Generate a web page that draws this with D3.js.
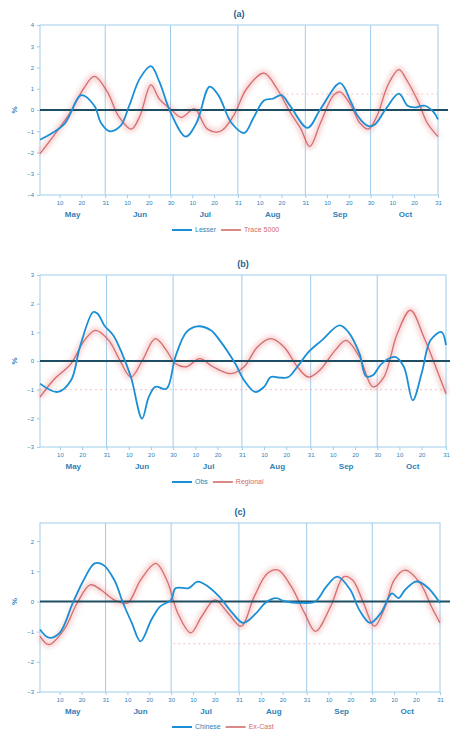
<!DOCTYPE html>
<html>
<head>
<meta charset="utf-8">
<script src="https://cdn.jsdelivr.net/npm/d3@7"></script>
<style>
  body { margin: 0; background: #fff; }
  svg { display: block; font-family: "Liberation Sans", Arial, sans-serif; }
</style>
</head>
<body>
<div id="chart"></div>
<script>
// ---- data (date "MM-DD", value) ----
const months = ['May', 'Jun', 'Jul', 'Aug', 'Sep', 'Oct'];
const tickDays = [10, 20];   // plus last day of each month

const aBlue = [['05-01',-1.4],['05-12',-0.68],['05-20',0.7],['05-26',0.2],['05-29',-0.6],['06-02',-1.0],['06-07',-0.75],
  ['06-11',0.2],['06-16',1.5],['06-21',2.06],['06-25',1.3],['06-30',-0.1],['07-07',-1.25],['07-12',-0.6],['07-18',1.1],
  ['07-22',0.7],['07-28',-0.6],['08-03',-1.08],['08-07',-0.4],['08-12',0.45],['08-16',0.53],['08-20',0.7],['08-24',0.2],
  ['09-01',-0.84],['09-07',0.05],['09-16',1.26],['09-21',0.37],['09-24',-0.27],['09-29',-0.76],['10-02',-0.68],
  ['10-07',0.05],['10-13',0.77],['10-17',0.2],['10-20',0.12],['10-25',0.2],['10-29',-0.1],['10-31',-0.44]];
const aRed = [['05-01',-2.05],['05-07',-1.25],['05-15',-0.1],['05-21',1.0],['05-26',1.58],['06-01',0.85],['06-06',-0.27],
  ['06-12',-0.9],['06-16',-0.27],['06-21',1.18],['06-25',0.5],['06-30',0.05],['07-05',-0.35],['07-11',0.05],['07-17',-0.9],
  ['07-23',-1.0],['07-29',-0.27],['08-04',1.0],['08-12',1.74],['08-18',1.0],['08-24',-0.1],['08-29',-0.9],['09-02',-1.72],
  ['09-07',-0.6],['09-13',0.7],['09-16',0.85],['09-21',0.2],['09-25',-0.6],['09-29',-0.9],['10-03',-0.27],['10-08',1.18],
  ['10-13',1.9],['10-17',1.34],['10-22',0.37],['10-26',-0.6],['10-31',-1.25]];

const bBlue = [['05-01',-0.79],['05-09',-1.08],['05-15',-0.67],['05-19',0.49],['05-25',1.71],['05-27',1.65],['05-30',1.24],
  ['06-03',0.9],['06-07',0.26],['06-11',-0.56],['06-16',-2.01],['06-19',-1.26],['06-22',-0.9],['06-27',-0.97],['07-01',0.14],
  ['07-06',1.01],['07-11',1.21],['07-17',1.07],['07-21',0.72],['07-28',-0.09],['08-01',-0.67],['08-06',-1.08],['08-10',-0.9],
  ['08-13',-0.56],['08-17',-0.58],['08-21',-0.56],['08-25',-0.2],['08-30',0.31],['09-05',0.72],['09-13',1.24],['09-17',1.01],
  ['09-22',0.26],['09-25',-0.53],['09-28',-0.5],['10-02',-0.09],['10-08',0.14],['10-12',-0.2],['10-16',-1.37],['10-20',-0.44],
  ['10-24',0.72],['10-29',1.01],['10-31',0.55]];
const bRed = [['05-01',-1.26],['05-07',-0.67],['05-15',-0.09],['05-21',0.72],['05-26',1.07],['06-01',0.72],['06-06',0.02],
  ['06-11',-0.56],['06-16',0.0],['06-22',0.78],['06-27',0.37],['07-01',-0.09],['07-06',-0.2],['07-12',0.08],['07-18',-0.2],
  ['07-26',-0.44],['08-01',-0.2],['08-07',0.49],['08-13',0.78],['08-19',0.49],['08-25',-0.2],['08-30',-0.56],['09-04',-0.33],
  ['09-11',0.37],['09-16',0.72],['09-22',0.14],['09-28',-0.9],['10-03',-0.56],['10-09',0.95],['10-15',1.77],['10-21',0.84],
  ['10-27',-0.33],['10-31',-1.14]];

const cBlue = [['05-01',-0.93],['05-05',-1.2],['05-10',-1.04],['05-16',-0.05],['05-21',0.71],['05-26',1.26],['05-30',1.21],
  ['06-04',0.71],['06-08',-0.05],['06-12',-0.71],['06-16',-1.32],['06-21',-0.6],['06-25',-0.16],['06-30',0.05],['07-02',0.44],
  ['07-08',0.44],['07-12',0.66],['07-17',0.49],['07-22',0.16],['07-28',-0.38],['08-02',-0.71],['08-08',-0.38],['08-12',-0.05],
  ['08-17',0.11],['08-21',0.0],['08-29',-0.05],['09-04',0.0],['09-09',0.49],['09-14',0.82],['09-20',0.38],['09-24',-0.27],
  ['09-29',-0.71],['10-04',-0.38],['10-09',0.27],['10-12',0.11],['10-15',0.38],['10-20',0.66],['10-25',0.49],['10-31',-0.05]];
const cRed = [['05-01',-1.15],['05-05',-1.43],['05-12',-0.93],['05-18',-0.05],['05-24',0.55],['05-29',0.38],['06-04',0.05],
  ['06-10',-0.05],['06-16',0.71],['06-23',1.26],['06-28',0.71],['07-03',-0.38],['07-09',-1.04],['07-14',-0.49],['07-20',0.05],
  ['07-26',-0.38],['08-01',-0.82],['08-07',0.16],['08-13',0.93],['08-18',1.04],['08-24',0.49],['08-30',-0.38],['09-04',-0.99],
  ['09-11',-0.16],['09-17',0.82],['09-21',0.71],['09-26',-0.05],['10-01',-0.82],['10-06',-0.16],['10-10',0.71],['10-15',1.04],
  ['10-22',0.6],['10-27',-0.16],['10-31',-0.71]];

const titles = ['(a)', '(b)', '(c)'];
const legendNames = [['Lesser', 'Trace 5000'], ['Obs', 'Regional'], ['Chinese', 'Ex-Cast']];
const yTicks = [[-4, -3, -2, -1, 0, 1, 2, 3, 4], [-3, -2, -1, 0, 1, 2, 3], [-3, -2, -1, 0, 1, 2]];
const yDomains = [[-4, 4], [-3, 3], [-3, 2.6]];
const refLevels = [0.75, -1, -1.4];   // faint dashed reference lines

// ---- layout ----
const W = 450, H = 730;
const frames = [
  { top: 25, bottom: 195, right: 438, refFrom: '08-20' },
  { top: 275, bottom: 447, right: 446, refFrom: '05-01' },
  { top: 523, bottom: 692, right: 440, refFrom: '07-01' }
];
const left = 40;
const blue = '#1a8fd6', red = '#c8474a', axisCol = '#9fcdec', textCol = '#2f7fb8';

const parse = s => d3.timeParse('%Y-%m-%d')('2021-' + s);
const start = parse('05-01'), end = parse('10-31');

const svg = d3.select('#chart').append('svg').attr('width', W).attr('height', H);

const defs = svg.append('defs');
defs.append('filter').attr('id', 'soft').attr('x', '-5%').attr('y', '-20%').attr('width', '110%').attr('height', '140%')
  .append('feGaussianBlur').attr('stdDeviation', 2.2);

const seriesSets = [[aBlue, aRed], [bBlue, bRed], [cBlue, cRed]];

frames.forEach((f, i) => {
  const g = svg.append('g');
  const x = d3.scaleTime().domain([start, end]).range([left, f.right]);
  const y = d3.scaleLinear().domain(yDomains[i]).range([f.bottom, f.top]);

  // frame
  g.append('rect').attr('x', left).attr('y', f.top).attr('width', f.right - left).attr('height', f.bottom - f.top)
    .attr('fill', 'none').attr('stroke', axisCol).attr('stroke-width', 1);

  // month boundary lines
  const monthEnds = d3.timeMonth.range(parse('06-01'), parse('10-01')).concat([parse('10-01')])
    .map(d => d3.timeDay.offset(d, -1));
  g.selectAll('.mline').data(monthEnds).join('line')
    .attr('x1', d => x(d)).attr('x2', d => x(d)).attr('y1', f.top).attr('y2', f.bottom)
    .attr('stroke', axisCol).attr('stroke-width', 1);

  // y axis
  const ya = g.append('g').attr('transform', `translate(${left},0)`)
    .call(d3.axisLeft(y).tickValues(yTicks[i]).tickSize(3).tickFormat(d3.format('d')));
  ya.select('.domain').remove();
  ya.selectAll('line').attr('stroke', axisCol);
  ya.selectAll('text').attr('fill', textCol).style('font-size', '6px').attr('x', -6);

  // y label
  g.append('text').attr('transform', `translate(14,${y(0)}) rotate(-90)`).attr('text-anchor', 'middle')
    .attr('dy', '0.35em').attr('fill', textCol).style('font-size', '8px').style('font-weight', 'bold').text('%');

  // x axis day ticks
  const dayTicks = [];
  d3.timeMonth.range(start, parse('11-01')).forEach(m => {
    tickDays.forEach(dd => dayTicks.push(d3.timeDay.offset(m, dd - 1)));
    dayTicks.push(d3.timeDay.offset(d3.timeMonth.offset(m, 1), -1));
  });
  const xa = g.append('g').attr('transform', `translate(0,${f.bottom})`)
    .call(d3.axisBottom(x).tickValues(dayTicks).tickSize(3).tickFormat(d3.timeFormat('%-d')));
  xa.select('.domain').remove();
  xa.selectAll('line').attr('stroke', axisCol);
  xa.selectAll('text').attr('fill', textCol).style('font-size', '6px').attr('y', 6);

  // month labels
  const mids = d3.timeMonth.range(start, parse('11-01')).map(m => d3.timeDay.offset(m, 15));
  g.selectAll('.mlab').data(mids).join('text')
    .attr('x', d => x(d)).attr('y', f.bottom + 22).attr('text-anchor', 'middle')
    .attr('fill', textCol).style('font-size', '8px').style('font-weight', 'bold')
    .text((d, k) => months[k]);

  // title
  g.append('text').attr('x', (left + f.right) / 2).attr('y', f.top - 8).attr('text-anchor', 'middle')
    .attr('fill', '#1f5f8f').style('font-size', '9px').style('font-weight', 'bold').text(titles[i]);

  // faint dashed reference line
  g.append('line').attr('x1', x(parse(f.refFrom))).attr('x2', f.right)
    .attr('y1', y(refLevels[i])).attr('y2', y(refLevels[i]))
    .attr('stroke', '#f0a8a8').attr('stroke-width', 1).attr('stroke-dasharray', '2,3').attr('opacity', 0.7);

  const line = d3.line().x(d => x(parse(d[0]))).y(d => y(d[1])).curve(d3.curveCatmullRom.alpha(0.5));
  const [bs, rs] = seriesSets[i];

  // red series: soft halo + thin core
  g.append('path').datum(rs).attr('d', line).attr('fill', 'none')
    .attr('stroke', '#eb8f8f').attr('stroke-width', 7).attr('opacity', 0.35).attr('filter', 'url(#soft)');
  g.append('path').datum(rs).attr('d', line).attr('fill', 'none')
    .attr('stroke', red).attr('stroke-width', 1.3).attr('opacity', 0.75);

  // zero line
  g.append('line').attr('x1', left).attr('x2', Math.min(W, f.right + 10)).attr('y1', y(0)).attr('y2', y(0))
    .attr('stroke', '#1f4e63').attr('stroke-width', 2);

  // blue series
  g.append('path').datum(bs).attr('d', line).attr('fill', 'none')
    .attr('stroke', blue).attr('stroke-width', 1.8);

  // legend
  const ly = f.bottom + 35, lx = 172;
  const leg = g.append('g').attr('transform', `translate(${lx},${ly})`);
  leg.append('line').attr('x1', 0).attr('x2', 20).attr('stroke', blue).attr('stroke-width', 2);
  const t1 = leg.append('text').attr('x', 23).attr('dy', '0.35em').attr('fill', textCol)
    .style('font-size', '7px').text(legendNames[i][0]);
  const w1 = t1.node().getComputedTextLength();
  leg.append('line').attr('x1', 28 + w1).attr('x2', 48 + w1).attr('stroke', red).attr('stroke-width', 1.3);
  leg.append('text').attr('x', 51 + w1).attr('dy', '0.35em').attr('fill', '#d46a6a')
    .style('font-size', '7px').text(legendNames[i][1]);
});
</script>
</body>
</html>
